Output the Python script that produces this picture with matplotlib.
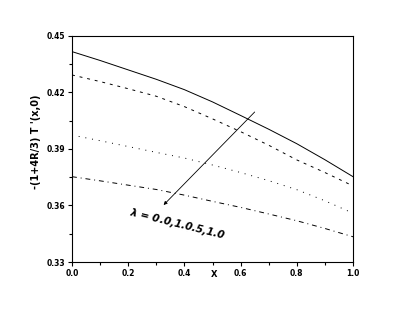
# recreate the temperature gradient plot
import matplotlib
import matplotlib.pyplot as plt
from matplotlib.ticker import MultipleLocator

matplotlib.rcParams['font.family'] = 'DejaVu Sans'
matplotlib.rcParams['font.weight'] = 'bold'

# data
x_pts = [0.0, 0.1, 0.2, 0.3, 0.4, 0.5, 0.6, 0.7, 0.8, 0.9, 1.0]
y_l0 = [0.4417, 0.4370, 0.4320, 0.4270, 0.4215, 0.4150,
        0.4078, 0.4005, 0.3928, 0.3843, 0.3753]   # lambda = 0.0
y_l1 = [0.4293, 0.4258, 0.4220, 0.4180, 0.4125, 0.4060,
        0.3992, 0.3920, 0.3842, 0.3775, 0.3704]   # lambda = 0.1
y_l5 = [0.3974, 0.3944, 0.3913, 0.3882, 0.3852, 0.3815,
        0.3775, 0.3732, 0.3684, 0.3625, 0.3559]   # lambda = 0.5
y_l10 = [0.3753, 0.3731, 0.3708, 0.3685, 0.3655, 0.3622,
         0.3590, 0.3555, 0.3519, 0.3478, 0.3434]  # lambda = 1.0

yticks = [0.33, 0.36, 0.39, 0.42, 0.45]
xticks = [0.0, 0.2, 0.4, 0.6, 0.8, 1.0]

fig = plt.figure(figsize=(4.1, 3.14), dpi=100)
ax = fig.add_axes([0.1756, 0.1656, 0.6854, 0.7198])

ax.plot(x_pts, y_l0, color='black', linewidth=0.7, linestyle='solid')
ax.plot(x_pts, y_l1, color='black', linewidth=0.7, linestyle=(0, (3, 5)))
ax.plot(x_pts, y_l5, color='black', linewidth=0.7, linestyle=(0, (1, 6)))
ax.plot(x_pts, y_l10, color='black', linewidth=0.7, linestyle=(0, (5, 4, 1, 4)))

ax.set(xlim=[0.0, 1.0], ylim=[0.33, 0.45])
ax.set_xticks(xticks)
ax.set_yticks(yticks)
ax.set_xticklabels(['%.1f' % v for v in xticks])
ax.set_yticklabels(['%.2f' % v for v in yticks])
ax.xaxis.set_minor_locator(MultipleLocator(0.1))
ax.yaxis.set_minor_locator(MultipleLocator(0.015))

for s in ax.spines.values():
    s.set_linewidth(0.8)

ax.tick_params(axis='both', which='major', direction='out', length=3,
               width=0.8, labelsize=5.5, pad=2)
ax.tick_params(axis='both', which='minor', direction='out', length=2,
               width=0.8)
ax.tick_params(top=False, right=False)

ax.text(0.505, -0.035, 'X', transform=ax.transAxes, ha='center', va='top',
        fontsize=6, fontweight='bold')
fig.text(0.088, 0.55, "-(1+4R/3) T '(x,0)", rotation=90, ha='center',
         va='center', fontsize=7, fontweight='bold')

# arrow across the curves
ax.annotate('', xy=(0.319, 0.3592), xytext=(0.657, 0.4107),
            arrowprops=dict(arrowstyle='-|>', color='black', lw=0.6,
                            mutation_scale=5))
ax.text(0.205, 0.3565, r'$\lambda$ = 0.0,1.0.5,1.0', rotation=-14,
        fontsize=7.5, fontweight='bold', style='italic', ha='left',
        va='center', rotation_mode='anchor')

plt.savefig('out.png', dpi=100)
